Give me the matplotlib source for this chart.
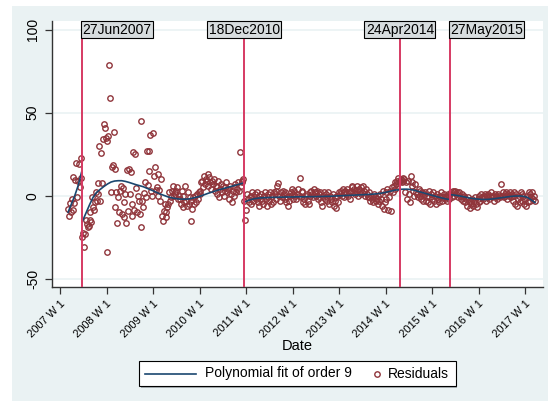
import datetime as dt
import numpy as np
import matplotlib
matplotlib.use("Agg")
import matplotlib.pyplot as plt
from matplotlib.lines import Line2D
from matplotlib.patches import Rectangle

plt.rcParams["font.family"] = ["Liberation Sans", "DejaVu Sans"]

# ---- data -----------------------------------------------------------------
# weekly residuals, first observation is 2007 W10 (week index 9, 2007 W1 = 0)
first_week = 9

resid_p1 = [-8, -12, -4.5, -9.6, -2, -8.6, 11, -4.4, 9.5, 19.5, -1, 9, 19, 5.4, 22.5, 10.8]

resid_p2 = [
    -24.7, -22.7, -30.7, -23, -14.6, -17, -19, -18, -14.6, -9.6, -16, -0.6, -7, -8.6, -3.6,
    2.4, -3.5, 1, 7.8, 30, -3.5, 25.5, 7.6, 34, 43, 41, 35, 33, -33.7, 36,
    78.7, 58.7, 2.4, 17, 18.5, 38.6, -7, 16, 2.4, -16.6, -0.6, -10, 3,
    5.8, -11, 4.7, -13, -3.6, 1, -16.5, 15.5, -9, 16, 1, 14.5, -5, -12,
    26.5, -8.6, 25, 4.6, -10, 0, -3, -11, -18.7, 45, -3, -7, 1.6, 8.4, -1,
    27, 6.4, 15, 27, 36.5, 3, 0, 37.7, 12, 17.5, 3.6, 5, 0, 13,
    3.6, -3, 10, -12, -15, -9, -5, -10, -13, -7, -5, 2, -3, -1,
    3, 6, 0, 2, 1, 3, 5, -2, 0,
    -2, -5, 3, -7, 0, -4, 6, -3, -6, 2, -5, -1,
    -15, -3, -8, -1, -5, 0, -4, 1, -2, 2,
    3, 1, 8, 9, 5, 12, 7, 10, 9, 13, 6, 11, 8, 4, 9,
    7, 10, 3, 6, 1, 5, 9, -1, 4, 7, 2, 6, 0, 3, 5, 8, 2, 4, -2, 6,
    1, -4, 3, 5, 0, 7, 2, 4, 8, 3, 26, 6, 9, 8, 10,
]

resid_p3 = [
    -3, -14.6, -8.6, 1, -2, -4, -1, 0, -5, 2, -3, -1, 1, -2,
    2.4, -4, 0, -6, -2, 1, -3, -5, 0, 2, -2, -6, -1, 1,
    -3, 2, -5, 0, -4, 2, 1, -2, 3, 6, 7.6, 0, -3, 2,
    -1, 3, 1, -2, 2, -4, -1, -6, -3, 0, 2, 4, 1, -2,
    3, 0, -2, 1, 4, 0, 10.8, -1, 3, 2, -4, -2, -5, 0,
    1, -3, -5, 2, 0, 3, 1, -1, 4, 2, 0, 3, -2, 1,
    -1, 2, -4, -6, 0, 2, -2, 1, -3, -1, 2, -5, 0, -2,
    -4, 1, -6, -3, -1, -7.4, 0, -4, 2, 1, 3, 0, 4, 2,
    -1, 3, 1, 4, 0, 2, -2, 3, 5, 6, 2, 4, 1, 3,
    6, 0, 4, 3, 5, 1, 2, 6, 3, 0, 4, 1, -1, 2,
    -1, -3, 0, -2, -4, 1, -1, -3, -2, 0, -5, -3, 1, -2,
    -6, 3, -8, -4, -2, 2, 4, -8.6, -1, 3, -9, 5, 2, 6, 4, 8, 7, 9, 10.6, 8,
]

resid_p4 = [
    9, 10, 8, 10.6, 9, 10, 2, 8, -2, 9, 1, -4, 11.9, 6,
    8, 3, 0, 7, 2, 1, -1, 4, 0, 3, -2, 2, -3, 1,
    2, -3, 0, -4, 3, -1, -5, 1, -2, 2, -3, 0, -5, -1,
    1, -2, -4, 0, 2, -3, -1, 1, -2, 0, -1, -3, 1, -2,
]

resid_p5 = [
    1, 2, -1, 3, 2, 0, 3, 1, 2, -1, 2, 0, -2, 1,
    -1, -3, 0, -4, -2, -6, -1, -3, -7.6, -4, -5, -2, -6, -3,
    -1, -5, -7, -2, -4, 0, -3, 1, -1, -2, 0, 1, -3, 0,
    -1, 1, -2, 0, 2, -1, 0, -3, 1, -1, 0, -2, 1, 0,
    -1, 7, 0, 2, -1, 1, 0, 2, -2, 1, 0, 2, -1, 1,
    0, -3, 2, -5, 1, -6, -2, 0, -4, 2, -3, 1, 0, -5,
    -2, -6, 0, -4, 2, -3, 1, -1, 2, -2, 0, -3,
]

# order-9 polynomial fit per period, sampled evenly from the first to the last week
fit_p1 = [-10, -5, 0, 6, 14]
fit_p2 = [
    -15.5, -10.5, -5.5, -1, 2, 3.8, 5.5, 7, 8.2, 8.8, 9, 9, 8.6, 8, 7.3, 6.6,
    6, 5.4, 4.5, 3.6, 2.7, 1.7, 0.8, 0, -0.8, -1.3, -1.7, -2, -2.1, -2.1, -1.9,
    -1.4, -0.9, -0.3, 0.5, 1.3, 2, 2.7, 3.4, 4, 4.6, 5.2, 5.8, 6.4, 7, 7.6,
]
fit_p3 = [
    -4, -3, -2.3, -1.8, -1.5, -1.3, -1.2, -1.1, -1, -1, -0.9, -0.9, -0.8, -0.8,
    -0.8, -0.7, -0.7, -0.7, -0.6, -0.6, -0.6, -0.5, -0.5, -0.4, -0.4, -0.3, -0.2,
    -0.1, 0, 0.1, 0.2, 0.3, 0.4, 0.5, 0.6, 0.7, 0.8, 1, 1.2, 1.5, 1.9, 2.4, 2.9,
    3.4, 3.5,
]
fit_p4 = [3.8, 3.9, 3.9, 3.7, 3.3, 2.7, 2.1, 1.5, 0.9, 0.3, -0.3, -0.9, -1.4, -1.9, -2.3]
fit_p5 = [
    0.6, 0.4, 0.1, -0.3, -0.7, -1.2, -1.6, -1.9, -2.1, -2.3, -2.3, -2.2, -2.0,
    -1.7, -1.4, -1.1, -0.8, -0.5, -0.3, -0.2, -0.2, -0.5, -1.2, -2.6, -4.2,
]

periods = [resid_p1, resid_p2, resid_p3, resid_p4, resid_p5]
fits = [fit_p1, fit_p2, fit_p3, fit_p4, fit_p5]

break_dates = [dt.date(2007, 6, 27), dt.date(2010, 12, 18),
               dt.date(2014, 4, 24), dt.date(2015, 5, 27)]
break_labels = ["27Jun2007", "18Dec2010", "24Apr2014", "27May2015"]
break_label_align = ["left", "center", "center", "left"]

tick_years = list(range(2007, 2018))
tick_labels = [f"{y} W 1" for y in tick_years]


def stata_week(d):
    """Weekly index (52 weeks per year, 2007 W1 = 0) of a calendar date."""
    doy = d.timetuple().tm_yday
    return (d.year - 2007) * 52 + min((doy - 1) // 7, 51)


# ---- figure ---------------------------------------------------------------
W, H = 555, 401
bg = "#EAF2F3"
navy = "#1A476F"
maroon = "#90353B"
vline_col = "#D63A63"


def fx(px):
    return px / W


def fy(py):
    return 1 - py / H


fig = plt.figure(figsize=(W / 100, H / 100), dpi=100)
fig.patch.set_facecolor("white")
fig.patches.append(Rectangle((fx(12), 0), fx(536), fy(6),
                             transform=fig.transFigure, facecolor=bg,
                             edgecolor="none", zorder=-10))

ax = fig.add_axes([fx(51.7), fy(287.3), fx(543 - 51.7), (287.3 - 21) / H])
ax.set_facecolor("white")

start = first_week
for vals, fit in zip(periods, fits):
    t = np.arange(start, start + len(vals))
    ax.plot(t, vals, linestyle="none", marker="o", markersize=3.9,
            markerfacecolor="none", markeredgecolor=maroon,
            markeredgewidth=1.0, zorder=2)
    tf = np.linspace(t[0], t[-1], len(fit))
    ax.plot(tf, fit, color=navy, lw=1.2, zorder=3)
    start += len(vals)

ax.set_xlim(-9.3, 540)
ax.set_ylim(-55.2, 105.2)

# break lines with boxed labels
for d, lab, ha in zip(break_dates, break_labels, break_label_align):
    xw = stata_week(d)
    ax.axvline(xw, color=vline_col, lw=1.4, zorder=4)
    ax.text(xw, 100, lab, ha=ha, va="center", fontsize=10, zorder=6,
            bbox=dict(boxstyle="square,pad=0.1", facecolor="#D7DCDE",
                      edgecolor="black", linewidth=0.8))

# axes styling
ax.set_yticks([-50, 0, 50, 100])
ax.set_yticklabels(["-50", "0", "50", "100"], rotation=90, va="center", fontsize=10)
ax.set_xticks([(y - 2007) * 52 for y in tick_years])
ax.set_xticklabels(tick_labels, rotation=45, ha="right", rotation_mode="anchor", fontsize=8)
ax.tick_params(axis="both", direction="out", length=5, width=0.9, color="#333333")
ax.tick_params(axis="x", pad=3)
ax.grid(axis="y", color=bg, lw=1.2, zorder=0)
ax.set_axisbelow(True)
for s in ["top", "right"]:
    ax.spines[s].set_visible(False)
for s in ["left", "bottom"]:
    ax.spines[s].set_color("#333333")
    ax.spines[s].set_linewidth(1.0)

ax.set_xlabel("Date", fontsize=10.5)
ax.xaxis.label.set_va("center")
ax.xaxis.set_label_coords((297 - 51.7) / (543 - 51.7), (287.3 - 346) / (287.3 - 21))

# legend box
lx0, lx1, ly0, ly1 = 139, 456, 361, 386
ly = (ly0 + ly1) / 2
fig.patches.append(Rectangle((fx(lx0 + 1.5), fy(ly1 + 1.5)), fx(lx1 - lx0), (ly1 - ly0) / H,
                             transform=fig.transFigure, facecolor="#A9B0B3",
                             edgecolor="none", zorder=1))
fig.patches.append(Rectangle((fx(lx0), fy(ly1)), fx(lx1 - lx0), (ly1 - ly0) / H,
                             transform=fig.transFigure, facecolor="white",
                             edgecolor="black", linewidth=0.8, zorder=2))
fig.lines.append(Line2D([fx(145), fx(196)], [fy(ly), fy(ly)], transform=fig.transFigure,
                        color=navy, lw=1.2, zorder=3))
fig.text(fx(205), fy(ly), "Polynomial fit of order 9", fontsize=10, va="center",
         ha="left", zorder=3)
fig.lines.append(Line2D([fx(377)], [fy(ly)], transform=fig.transFigure, linestyle="none",
                        marker="o", markersize=3.9, markerfacecolor="none",
                        markeredgecolor=maroon, markeredgewidth=1.0, zorder=3))
fig.text(fx(388), fy(ly), "Residuals", fontsize=10, va="center", ha="left", zorder=3)

fig.savefig("out.png", dpi=100, facecolor=fig.get_facecolor())
